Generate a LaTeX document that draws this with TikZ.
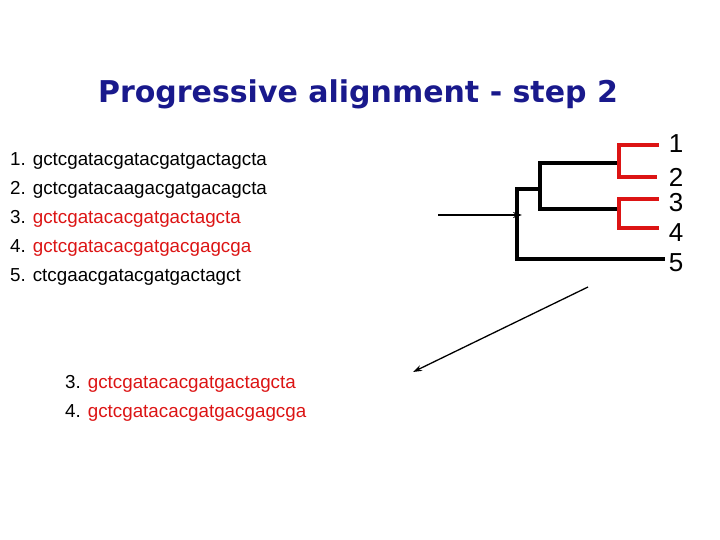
\documentclass[tikz,border=0pt]{standalone}
\usepackage{fontspec}
\usetikzlibrary{arrows.meta}
\setmainfont{Liberation Sans}
\newfontfamily\titlefont{DejaVu Sans}
\definecolor{seqred}{RGB}{220,20,20}
\definecolor{titleblue}{RGB}{25,25,140}
\begin{document}
\begin{tikzpicture}[x=1pt,y=-1pt,
  seq/.style={anchor=west,inner sep=0pt,font=\fontsize{18.8}{18.8}\selectfont},
  lab/.style={anchor=center,inner sep=0pt,font=\fontsize{26}{26}\selectfont},
  tree/.style={line width=4.5pt,line cap=rect},
  redtree/.style={tree,draw=seqred},
  arr/.style={-{Stealth[length=9pt,width=6pt]},line width=1.3pt}]
\useasboundingbox (0,0) rectangle (720,540);
\node[inner sep=0pt,text=titleblue,font=\titlefont\bfseries\fontsize{30}{30}\selectfont] (title) at (358,94) {Progressive alignment - step 2};
\node[seq] (s1) at (10,161) {1. gctcgatacgatacgatgactagcta};
\node[seq] (s2) at (10,190) {2. gctcgatacaagacgatgacagcta};
\node[seq] (s3) at (10,219) {3. \textcolor{seqred}{gctcgatacacgatgactagcta}};
\node[seq] (s4) at (10,248) {4. \textcolor{seqred}{gctcgatacacgatgacgagcga}};
\node[seq] (s5) at (10,277) {5. ctcgaacgatacgatgactagct};
\node[seq] (t3) at (65,384) {3. \textcolor{seqred}{gctcgatacacgatgactagcta}};
\node[seq] (t4) at (65,413) {4. \textcolor{seqred}{gctcgatacacgatgacgagcga}};
% tree
\draw[tree] (618,163) -- (540,163) -- (540,209) -- (618,209);
\draw[tree] (540,189) -- (517,189) -- (517,259) -- (663,259);
\draw[redtree] (657,145) -- (619,145) -- (619,177) -- (655,177);
\draw[redtree] (657,199) -- (619,199) -- (619,228) -- (657,228);
\node[lab] (l1) at (676,144) {1};
\node[lab] (l2) at (676,177) {2};
\node[lab] (l3) at (676,203) {3};
\node[lab] (l4) at (676,233) {4};
\node[lab] (l5) at (676,263) {5};
\coordinate (a1) at (438,215);
\coordinate (a2) at (522,215);
\coordinate (b1) at (588,287);
\coordinate (b2) at (413,372);
\draw[arr] (a1) -- (a2);
\draw[arr] (b1) -- (b2);
\end{tikzpicture}
\end{document}
